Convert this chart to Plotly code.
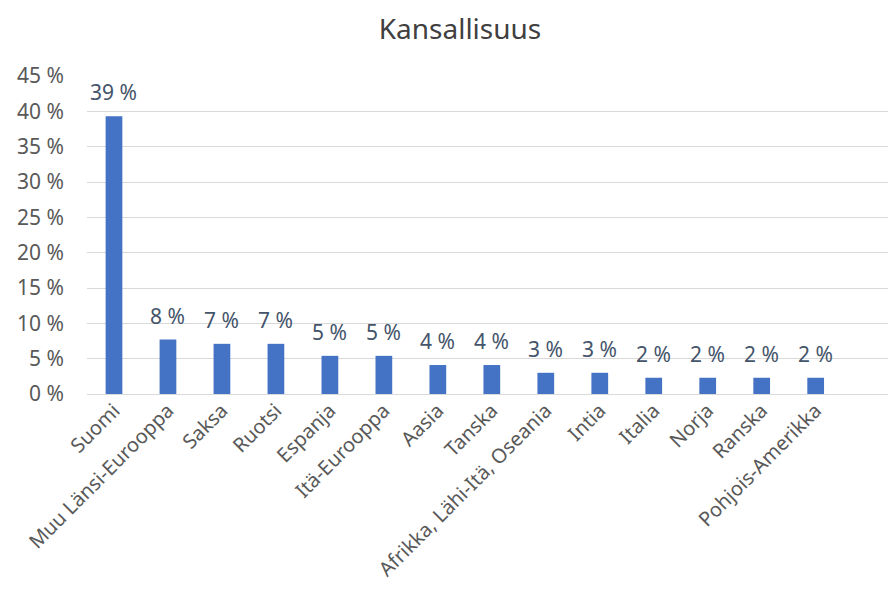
import plotly.graph_objects as go

categories = ["Suomi", "Muu Länsi-Eurooppa", "Saksa", "Ruotsi", "Espanja", "Itä-Eurooppa",
              "Aasia", "Tanska", "Afrikka, Lähi-Itä, Oseania", "Intia", "Italia", "Norja",
              "Ranska", "Pohjois-Amerikka"]
values = [39.3, 7.7, 7.1, 7.1, 5.4, 5.4, 4.1, 4.1, 3.0, 3.0, 2.3, 2.3, 2.3, 2.3]
y_ticks = [0, 5, 10, 15, 20, 25, 30, 35, 40, 45]
y_tick_labels = [f"{v} %" for v in y_ticks]
value_labels = [f"{round(v)} %" for v in values]

font_family = "Noto Sans, Open Sans, DejaVu Sans, sans-serif"

fig = go.Figure(go.Bar(
    x=categories, y=values,
    marker=dict(color="#4472C4", line=dict(width=0)),
    hoverinfo="x+y",
))

for cat, val, lab in zip(categories, values, value_labels):
    fig.add_annotation(x=cat, y=val, text=lab, showarrow=False,
                       xanchor="center", yanchor="bottom", yshift=8,
                       font=dict(color="#44546A", size=21, family=font_family))

fig.update_layout(
    width=888, height=590,
    margin=dict(l=87, r=0, t=76, b=196),
    paper_bgcolor="white", plot_bgcolor="white",
    title=dict(text="Kansallisuus", x=0.518, xanchor="center", xref="container",
               y=0.95, yanchor="middle",
               font=dict(size=28, color="#404040", family=font_family)),
    bargap=0.69,
    showlegend=False,
    font=dict(family=font_family),
)
fig.update_xaxes(tickangle=-45, tickfont=dict(size=20, color="#595959", family=font_family),
                 showline=False, ticks="", showgrid=False, automargin=False,
                 range=[-0.5, 14.34])
fig.update_yaxes(range=[0, 45], tickvals=y_ticks, ticktext=y_tick_labels,
                 tickfont=dict(size=21, color="#595959", family=font_family),
                 showgrid=True, gridcolor="#D9D9D9", gridwidth=1,
                 zeroline=True, zerolinecolor="#D9D9D9", zerolinewidth=1,
                 ticks="", ticklabelstandoff=22, showline=False, automargin=False)

fig.write_html("out.html")
